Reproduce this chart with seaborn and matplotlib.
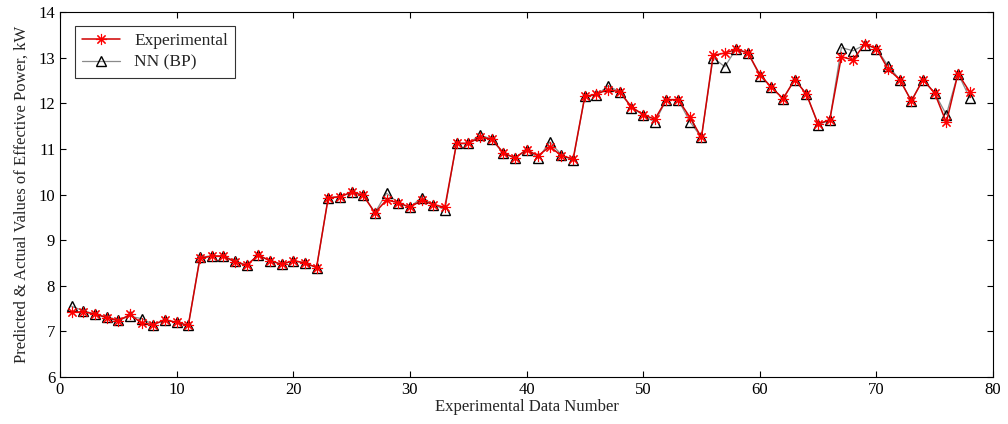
import numpy as np
import pandas as pd
import seaborn as sns
import matplotlib
matplotlib.use("Agg")
import matplotlib.pyplot as plt

# data
data_number = list(range(1, 79))
experimental = [
    7.42, 7.43, 7.38, 7.30, 7.23, 7.37, 7.18, 7.15, 7.25, 7.20,
    7.13, 8.60, 8.65, 8.65, 8.52, 8.45, 8.67, 8.55, 8.47, 8.55,
    8.50, 8.40, 9.93, 9.95, 10.05, 9.98, 9.60, 9.88, 9.82, 9.72,
    9.87, 9.78, 9.72, 11.12, 11.12, 11.25, 11.22, 10.92, 10.80, 10.98,
    10.85, 11.05, 10.85, 10.78, 12.15, 12.20, 12.30, 12.25, 11.92, 11.75,
    11.65, 12.08, 12.08, 11.70, 11.25, 13.05, 13.10, 13.18, 13.10, 12.63,
    12.35, 12.10, 12.52, 12.20, 11.55, 11.63, 13.02, 12.95, 13.30, 13.20,
    12.75, 12.52, 12.05, 12.52, 12.22, 11.58, 12.65, 12.25,
]
nn_bp = [
    7.55, 7.45, 7.38, 7.32, 7.25, 7.33, 7.28, 7.15, 7.25, 7.20,
    7.13, 8.63, 8.65, 8.65, 8.55, 8.45, 8.67, 8.55, 8.47, 8.55,
    8.50, 8.40, 9.93, 9.95, 10.05, 10.00, 9.60, 10.03, 9.82, 9.72,
    9.93, 9.78, 9.67, 11.12, 11.12, 11.30, 11.22, 10.90, 10.80, 10.98,
    10.80, 11.15, 10.87, 10.75, 12.15, 12.18, 12.38, 12.25, 11.90, 11.75,
    11.58, 12.08, 12.08, 11.60, 11.25, 13.00, 12.80, 13.20, 13.10, 12.60,
    12.35, 12.10, 12.52, 12.20, 11.53, 11.63, 13.22, 13.15, 13.28, 13.20,
    12.82, 12.52, 12.05, 12.52, 12.22, 11.75, 12.65, 12.12,
]

df = pd.DataFrame({"n": data_number, "exp": experimental, "nn": nn_bp})

sns.set_style("white")
plt.rcParams['font.family'] = ['Liberation Serif', 'DejaVu Serif']
plt.rcParams['xtick.direction'] = 'in'
plt.rcParams['ytick.direction'] = 'in'

fig = plt.figure(figsize=(10.08, 4.24), dpi=100)
ax = fig.add_axes([60 / 1008, 1 - 377 / 424, 933 / 1008, 365 / 424])

# asterisk marker like the MATLAB '*'
asterisk = (8, 2, 0)

sns.lineplot(data=df, x="n", y="nn", ax=ax, color="#8a8a8a", linewidth=0.9,
             marker="^", markersize=7, markerfacecolor="none",
             markeredgecolor="black", markeredgewidth=1, label="NN (BP)", sort=False)
sns.lineplot(data=df, x="n", y="exp", ax=ax, color="#d00000", linewidth=1.1,
             marker=asterisk, markersize=8, markeredgecolor="red",
             markeredgewidth=0.8, label="Experimental", sort=False)

ax.set_xlim(0, 80)
ax.set_ylim(6, 14)
ax.set_xticks(range(0, 81, 10))
ax.set_yticks(range(6, 15))
ax.tick_params(labelsize=12, length=4, width=0.8, top=True, right=True,
               bottom=True, left=True, colors="black")
for s in ax.spines.values():
    s.set_color("black")
    s.set_linewidth(0.8)

ax.set_xlabel("Experimental Data Number", fontsize=12, labelpad=1)
ax.set_ylabel("Predicted & Actual Values of Effective Power, kW", fontsize=12, labelpad=6)

handles, labels = ax.get_legend_handles_labels()
leg = ax.legend(handles[::-1], labels[::-1], loc="upper left", fontsize=12.5,
                frameon=True, fancybox=False, edgecolor="black",
                borderpad=0.4, handlelength=2.2, labelspacing=0.3,
                bbox_to_anchor=(0.007, 0.985))
leg.get_frame().set_linewidth(0.8)

fig.savefig("out.png", dpi=100)
